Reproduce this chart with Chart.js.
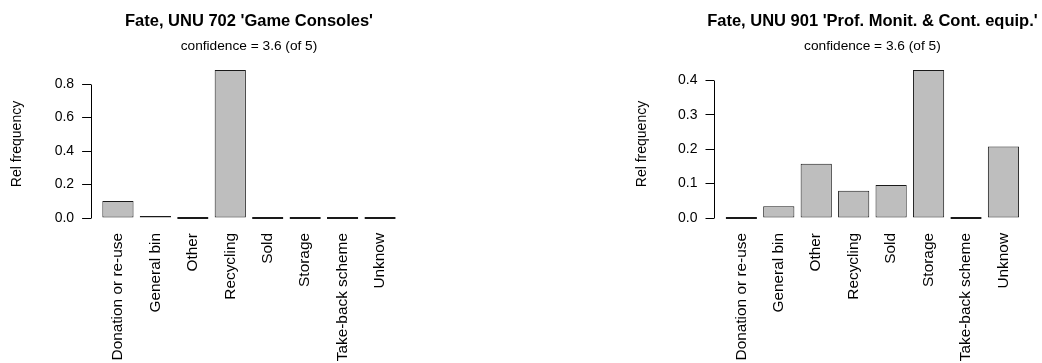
<!DOCTYPE html>
<html>
<head>
<meta charset="utf-8">
<title>Fate by UNU category</title>
<script src="https://cdn.jsdelivr.net/npm/chart.js@4"></script>
<style>
  html, body { margin: 0; padding: 0; background: #fff; overflow: hidden; }
  .panel { position: absolute; top: 0; width: 521px; height: 363px; }
  #panel-702 { left: 0; }
  #panel-901 { left: 521px; }
</style>
</head>
<body>
<div class="panel" id="panel-702"><canvas id="chart-702"></canvas></div>
<div class="panel" id="panel-901"><canvas id="chart-901"></canvas></div>
<script>
// ── data ────────────────────────────────────────────────────
const fateLabels    = ["Donation or re-use", "General bin", "Other", "Recycling", "Sold", "Storage", "Take-back scheme", "Unknow"];
const consolesFreq  = [0.102, 0.010, 0, 0.884, 0, 0, 0, 0];
const monitFreq     = [0, 0.034, 0.158, 0.079, 0.096, 0.430, 0, 0.208];
const consolesTicks = [0, 0.2, 0.4, 0.6, 0.8];
const monitTicks    = [0, 0.1, 0.2, 0.3, 0.4];
const consolesTitle = "Fate, UNU 702 'Game Consoles'";
const monitTitle    = "Fate, UNU 901 'Prof. Monit. & Cont. equip.'";
const confidenceTxt = "confidence = 3.6 (of 5)";

const FONT = "'Liberation Sans', Arial, Helvetica, sans-serif";
Chart.defaults.font.family = FONT;
Chart.defaults.color = "#000";

// barplot-style geometry: bar width 1, gap 0.2, axis range padded 4 %
const barCentre = i => 0.7 + 1.2 * i;

// R-like y axis line (only over the tick range) + centred titles
const rDecor = {
  id: "rDecor",
  afterDraw(chart, args, opts) {
    const { ctx, chartArea, scales: { y } } = chart;
    const t = y.ticks;
    const x = Math.round(chartArea.left) + 0.5;
    ctx.save();
    ctx.strokeStyle = "#000";
    ctx.lineWidth = 1;
    ctx.beginPath();
    ctx.moveTo(x, Math.round(y.getPixelForValue(t[0].value)) + 0.5);
    ctx.lineTo(x, Math.round(y.getPixelForValue(t[t.length - 1].value)) + 0.5);
    ctx.stroke();

    const cx = (chartArea.left + chartArea.right) / 2;
    ctx.fillStyle = "#000";
    ctx.textAlign = "center";
    ctx.textBaseline = "middle";
    ctx.font = "bold 16.5px " + FONT;
    ctx.fillText(opts.title, cx, 21);
    ctx.font = "13.7px " + FONT;
    ctx.fillText(opts.subtitle, cx, 46.5);
    ctx.restore();
  },
};

function makeChart(id, values, yTicks, title, pad) {
  const n = fateLabels.length;
  const span = 1.2 * n - 0.2;
  const xMin = 0.2 - 0.04 * span, xMax = 1.2 * n + 0.04 * span;
  const top = Math.max(...values);

  return new Chart(document.getElementById(id), {
    type: "bar",
    data: {
      datasets: [{
        data: values.map((v, i) => ({ x: barCentre(i), y: v })),
        backgroundColor: "#bebebe",
        borderColor: "#1a1a1a",
        borderWidth: 1,
        borderSkipped: false,
        barPercentage: 1,
        categoryPercentage: 1 / 1.2,
        minBarLength: 2,
      }],
    },
    plugins: [rDecor],
    options: {
      responsive: true, maintainAspectRatio: false,
      animation: false,
      layout: { padding: { left: pad.left, right: pad.right, top: 64, bottom: 0 } },
      plugins: {
        legend: { display: false },
        tooltip: { enabled: false },
        rDecor: { title, subtitle: confidenceTxt },
      },
      scales: {
        x: {
          type: "linear", min: xMin, max: xMax, offset: false,
          grid: { display: false, drawTicks: false, offset: false }, border: { display: false },
          afterBuildTicks: s => { s.ticks = fateLabels.map((_, i) => ({ value: barCentre(i) })); },
          afterFit: s => { s.height = 139; s.paddingLeft = 0; s.paddingRight = 0; },
          ticks: {
            autoSkip: false, minRotation: 90, maxRotation: 90, padding: 9,
            color: "#000", font: { size: 15.4 },
            callback: (v, i) => fateLabels[i],
          },
        },
        y: {
          min: -0.04 * top, max: 1.04 * top,
          afterBuildTicks: s => { s.ticks = yTicks.map(v => ({ value: v })); },
          afterFit: s => { s.width = pad.yWidth; s.paddingTop = 0; s.paddingBottom = 0; },
          grid: { drawOnChartArea: false, drawTicks: true, tickLength: 8.5, color: "#000", lineWidth: 1 },
          border: { display: false },
          ticks: { padding: 8, color: "#000", font: { size: 14 }, callback: v => v.toFixed(1) },
          title: { display: true, text: "Rel frequency", color: "#000", font: { size: 14 }, padding: { top: 9, bottom: 0 } },
        },
      },
    },
  });
}

makeChart("chart-702", consolesFreq, consolesTicks, consolesTitle, { left: 0,     yWidth: 90.6, right: 113.6 });
makeChart("chart-901", monitFreq,    monitTicks,    monitTitle,    { left: 103.4, yWidth: 89.6, right: 11.2 });
</script>
</body>
</html>
